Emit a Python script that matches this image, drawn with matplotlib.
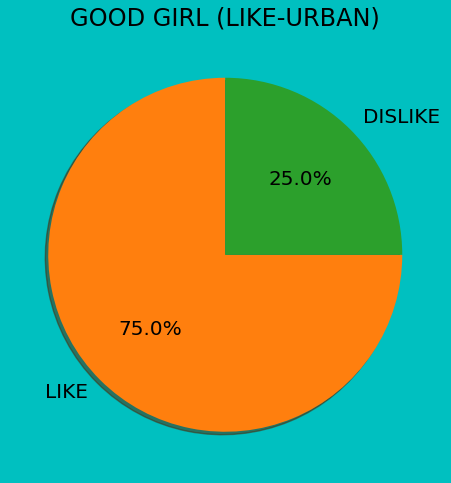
import matplotlib
matplotlib.use("Agg")
import matplotlib.pyplot as plt

labels = ["LIKE", "DISLIKE"]
values = [75, 25]
colors = ["tab:orange", "tab:green"]
title = "GOOD GIRL (LIKE-URBAN)"

plt.rcParams["font.size"] = 14.4

fig = plt.figure(figsize=(4.51, 4.83), dpi=100, facecolor="#00c0c0")
# pie radius ~177px, centre at (225, 255) from top-left
ax = fig.add_axes([4 / 451, 7 / 483, 442.5 / 451, 442.5 / 483])
ax.set_facecolor("#00c0c0")
ax.pie(values, labels=labels, colors=colors, autopct="%1.1f%%",
       shadow={"ox": -0.012, "oy": -0.012, "shade": 0.7}, startangle=90)
ax.set_title(title, pad=6)
fig.savefig("out.png", dpi=100, facecolor=fig.get_facecolor())
